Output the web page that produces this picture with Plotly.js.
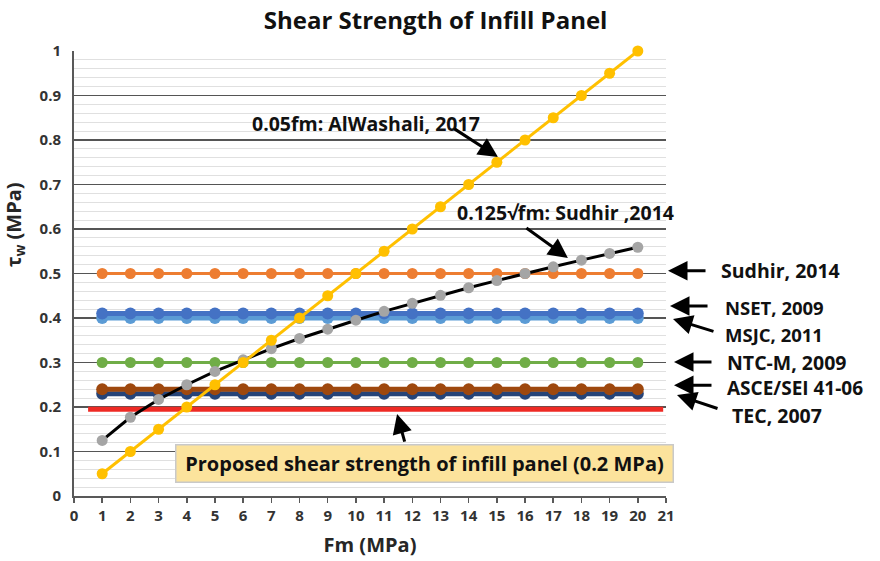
<!DOCTYPE html>
<html>
<head>
<meta charset="utf-8">
<script src="https://cdn.plot.ly/plotly-3.0.1.min.js"></script>
<style>html,body{margin:0;padding:0;background:#fff;}#chart{width:880px;height:561px;}</style>
</head>
<body>
<div id="chart"></div>
<script>
// ---- data ----
const fm = [1,2,3,4,5,6,7,8,9,10,11,12,13,14,15,16,17,18,19,20];
const alWashali = [0.05,0.10,0.15,0.20,0.25,0.30,0.35,0.40,0.45,0.50,0.55,0.60,0.65,0.70,0.75,0.80,0.85,0.90,0.95,1.00];
const sudhirSqrt = [0.125,0.177,0.217,0.250,0.280,0.306,0.331,0.354,0.375,0.395,0.415,0.433,0.451,0.468,0.484,0.500,0.515,0.530,0.545,0.559];
const sudhir2014 = [0.5,0.5,0.5,0.5,0.5,0.5,0.5,0.5,0.5,0.5,0.5,0.5,0.5,0.5,0.5,0.5,0.5,0.5,0.5,0.5];
const nset2009 = [0.41,0.41,0.41,0.41,0.41,0.41,0.41,0.41,0.41,0.41,0.41,0.41,0.41,0.41,0.41,0.41,0.41,0.41,0.41,0.41];
const msjc2011 = [0.40,0.40,0.40,0.40,0.40,0.40,0.40,0.40,0.40,0.40,0.40,0.40,0.40,0.40,0.40,0.40,0.40,0.40,0.40,0.40];
const ntcm2009 = [0.30,0.30,0.30,0.30,0.30,0.30,0.30,0.30,0.30,0.30,0.30,0.30,0.30,0.30,0.30,0.30,0.30,0.30,0.30,0.30];
const asce4106 = [0.24,0.24,0.24,0.24,0.24,0.24,0.24,0.24,0.24,0.24,0.24,0.24,0.24,0.24,0.24,0.24,0.24,0.24,0.24,0.24];
const tec2007 = [0.23,0.23,0.23,0.23,0.23,0.23,0.23,0.23,0.23,0.23,0.23,0.23,0.23,0.23,0.23,0.23,0.23,0.23,0.23,0.23];
const proposedX = [0.5, 20.9];
const proposedY = [0.195, 0.195];
const xTicks = [0,1,2,3,4,5,6,7,8,9,10,11,12,13,14,15,16,17,18,19,20,21];
const yTicks = [0,0.1,0.2,0.3,0.4,0.5,0.6,0.7,0.8,0.9,1];
const yTickText = ['0','0.1','0.2','0.3','0.4','0.5','0.6','0.7','0.8','0.9','1'];

const FONT = '"Open Sans", "Noto Sans", sans-serif';

function flat(y, color, lw, ms, name) {
  return {x: fm, y: y, name: name, type: 'scatter', mode: 'lines+markers',
    line: {color: color, width: lw}, marker: {color: color, size: ms}, cliponaxis: false};
}

const traces = [
  flat(tec2007, '#264478', 5, 12, 'TEC, 2007'),
  flat(asce4106, '#9E480E', 5, 12, 'ASCE/SEI 41-06'),
  flat(ntcm2009, '#70AD47', 3, 11, 'NTC-M, 2009'),
  flat(msjc2011, '#5B9BD5', 5, 12, 'MSJC, 2011'),
  flat(nset2009, '#4472C4', 5, 12, 'NSET, 2009'),
  flat(sudhir2014, '#ED7D31', 3, 11, 'Sudhir, 2014'),
  {x: proposedX, y: proposedY, type: 'scatter', mode: 'lines', name: 'Proposed',
    line: {color: '#EE2A24', width: 5}, cliponaxis: false},
  {x: fm, y: sudhirSqrt, type: 'scatter', mode: 'lines+markers', name: '0.125√fm: Sudhir, 2014',
    line: {color: '#000000', width: 3}, marker: {color: '#A5A5A5', size: 11}, cliponaxis: false},
  {x: fm, y: alWashali, type: 'scatter', mode: 'lines+markers', name: '0.05fm: AlWashali, 2017',
    line: {color: '#FFC000', width: 3}, marker: {color: '#FFC000', size: 11}, cliponaxis: false}
];

function arrow(ref, x, y, ax, ay) {
  return {x: x, y: y, xref: ref === 'paper' ? 'paper' : 'x', yref: ref === 'paper' ? 'paper' : 'y',
    ax: ax, ay: ay, text: '', showarrow: true,
    arrowhead: 2, arrowsize: 1.3, arrowwidth: 3, arrowcolor: '#000000'};
}
function label(ref, x, y, t, size) {
  return {x: x, y: y, xref: ref === 'paper' ? 'paper' : 'x', yref: ref === 'paper' ? 'paper' : 'y',
    text: t, showarrow: false, xanchor: 'left', yanchor: 'middle',
    font: {family: FONT, size: size || 19.5, color: '#111111', weight: 700}};
}

const annotations = [
  label('x', 6.24, 0.838, '0.05fm: AlWashali, 2017'),
  arrow('x', 15.04, 0.762, -45, -29),
  label('x', 13.52, 0.636, '0.125√fm: Sudhir ,2014'),
  arrow('x', 17.52, 0.535, -43, -31),
  label('paper', 1.0895, 0.506, 'Sudhir, 2014'),
  arrow('paper', 1.0034, 0.506, 39, 0),
  label('paper', 1.0963, 0.424, 'NSET, 2009', 18.5),
  arrow('paper', 1.0068, 0.427, 39, 0),
  label('paper', 1.0963, 0.363, 'MSJC, 2011', 18.5),
  arrow('paper', 1.0118, 0.398, 42, 13),
  label('paper', 1.0997, 0.301, 'NTC-M, 2009'),
  arrow('paper', 1.0135, 0.301, 39, 0),
  label('paper', 1.0997, 0.243, 'ASCE/SEI 41-06', 19),
  arrow('paper', 1.0135, 0.249, 39, 0),
  label('paper', 1.1081, 0.182, 'TEC, 2007'),
  arrow('paper', 1.0186, 0.227, 42, 14),
  arrow('x', 11.46, 0.184, 8, 29),
  {x: 12.42, y: 0.072, xref: 'x', yref: 'y', text: 'Proposed shear strength of infill panel (0.2 MPa)',
    showarrow: false, width: 492, height: 32, align: 'center', valign: 'middle',
    bgcolor: '#FCE39C', bordercolor: '#C9C9C9', borderwidth: 1.5, borderpad: 2,
    font: {family: FONT, size: 20, color: '#111111', weight: 700}},
  {x: -0.1, y: 0.61, xref: 'paper', yref: 'paper', text: 'τ<sub>w</sub> (MPa)', textangle: -90,
    showarrow: false, xanchor: 'center', yanchor: 'middle',
    font: {family: FONT, size: 20, color: '#262626', weight: 700}}
];

const layout = {
  width: 880, height: 561,
  margin: {l: 74, r: 214, t: 51, b: 65, pad: 0},
  paper_bgcolor: '#ffffff', plot_bgcolor: '#ffffff',
  showlegend: false,
  title: {text: 'Shear Strength of Infill Panel', x: 0.495, xanchor: 'center', y: 0.963, yanchor: 'middle',
    font: {family: FONT, size: 24, color: '#111111', weight: 700}},
  xaxis: {range: [0, 21], tickvals: xTicks, ticktext: xTicks.map(String),
    showgrid: false, zeroline: false, showline: true, linecolor: '#595959', linewidth: 2,
    ticks: 'outside', ticklen: 5, tickwidth: 1.5, tickcolor: '#595959',
    tickfont: {family: FONT, size: 15, color: '#333333', weight: 700},
    title: {text: 'Fm (MPa)', standoff: 14, font: {family: FONT, size: 20, color: '#262626', weight: 700}}},
  yaxis: {range: [0, 1], tickvals: yTicks, ticktext: yTickText,
    showgrid: true, gridcolor: '#555555', gridwidth: 1.5, zeroline: false,
    showline: true, linecolor: '#595959', linewidth: 2, ticks: '', ticklabelstandoff: 8,
    tickfont: {family: FONT, size: 15, color: '#333333', weight: 700},
    minor: {dtick: 0.02, showgrid: true, gridcolor: '#e0e0e0', gridwidth: 1}},
  annotations: annotations
};

Plotly.newPlot('chart', traces, layout, {displayModeBar: false, staticPlot: true});
</script>
</body>
</html>
